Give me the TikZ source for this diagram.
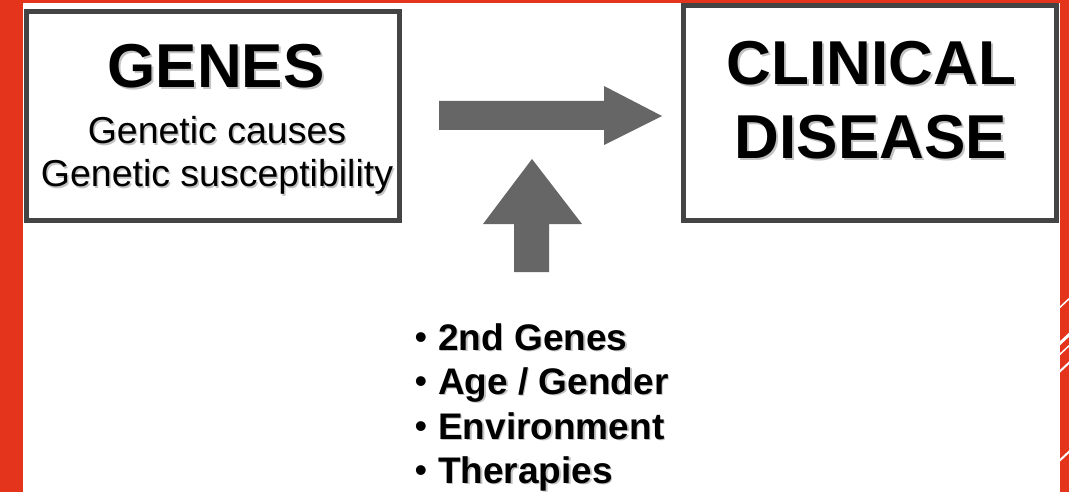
\documentclass[tikz,border=0pt]{standalone}
\usepackage{fontspec}
\setmainfont{Liberation Sans}
\definecolor{slidered}{RGB}{228,52,28}
\definecolor{boxgray}{RGB}{68,68,68}
\definecolor{arrowgray}{RGB}{102,102,102}
\definecolor{shadowgray}{RGB}{195,195,195}
\tikzset{
  x=1pt, y=-1pt,
  boxframe/.style={draw=boxgray, line width=5pt, fill=white},
  blockarrow/.style={fill=arrowgray},
  txt/.style={inner sep=0pt, anchor=base},
  bigtxt/.style={txt, font=\fontsize{62pt}{62pt}\selectfont\bfseries},
  midtxt/.style={txt, font=\fontsize{37.5pt}{38pt}\selectfont},
  listtxt/.style={inner sep=0pt, anchor=base west, font=\fontsize{37pt}{37pt}\selectfont\bfseries},
  bullettxt/.style={inner sep=0pt, anchor=base, font=\fontsize{36pt}{36pt}\selectfont},
  shadowed/.style={text=shadowgray}
}
\begin{document}
\begin{tikzpicture}
\useasboundingbox (0,0) rectangle (1069,492);
\fill[white] (0,0) rectangle (1069,492);
% red slide frame
\fill[slidered] (0,0) rectangle (23,492);
\fill[slidered] (0,0) rectangle (1069,3);
\fill[slidered] (1060,0) rectangle (1069,492);
\begin{scope}
  \clip (1060,0) rectangle (1069,492);
  \foreach \yy/\lw in {303/1.5, 339/3, 350/1.5, 367/2, 456/2}
    \draw[white, line width=\lw pt] (1057,\yy+7) -- (1072,\yy-7);
\end{scope}
% boxes
\node[boxframe, minimum width=373pt, minimum height=209pt, inner sep=0pt] (genesbox) at (213,116) {};
\node[boxframe, minimum width=373pt, minimum height=215pt, inner sep=0pt] (clinbox) at (870,113) {};
% GENES text
\node[bigtxt, shadowed] (genesS) at (218,90) {GENES};
\node[bigtxt] (genes) at (216,88) {GENES};
\node[midtxt, shadowed] (causesS) at (218.5,145.5) {Genetic causes};
\node[midtxt] (causes) at (217,144) {Genetic causes};
\node[midtxt, shadowed] (suscS) at (218.5,188.5) {Genetic susceptibility};
\node[midtxt] (susc) at (217,187) {Genetic susceptibility};
% CLINICAL DISEASE text
\node[bigtxt, shadowed] (clinS) at (873.5,87) {CLINICAL};
\node[bigtxt] (clin) at (871.5,85) {CLINICAL};
\node[bigtxt, shadowed] (disS) at (873,161) {DISEASE};
\node[bigtxt] (dis) at (871,159) {DISEASE};
% block arrows
\fill[blockarrow] (439,101) -- (604,101) -- (604,86) -- (662,116) -- (604,145) -- (604,130) -- (439,130) -- cycle;
\fill[blockarrow] (514,272) -- (514,224) -- (483,224) -- (532,159) -- (582,224) -- (549,224) -- (549,272) -- cycle;
% list
\foreach \yy/\tt/\nm in {350/{2nd Genes}/la, 394/{Age / Gender}/lb, 439/{Environment}/lc, 483/{Therapies}/ld}{
  \node[bullettxt] (\nm b) at (421,\yy-1) {•};
  \node[listtxt, shadowed] (\nm S) at (439.5,\yy+1.5) {\tt};
  \node[listtxt] (\nm) at (438,\yy) {\tt};
}
\end{tikzpicture}
\end{document}
